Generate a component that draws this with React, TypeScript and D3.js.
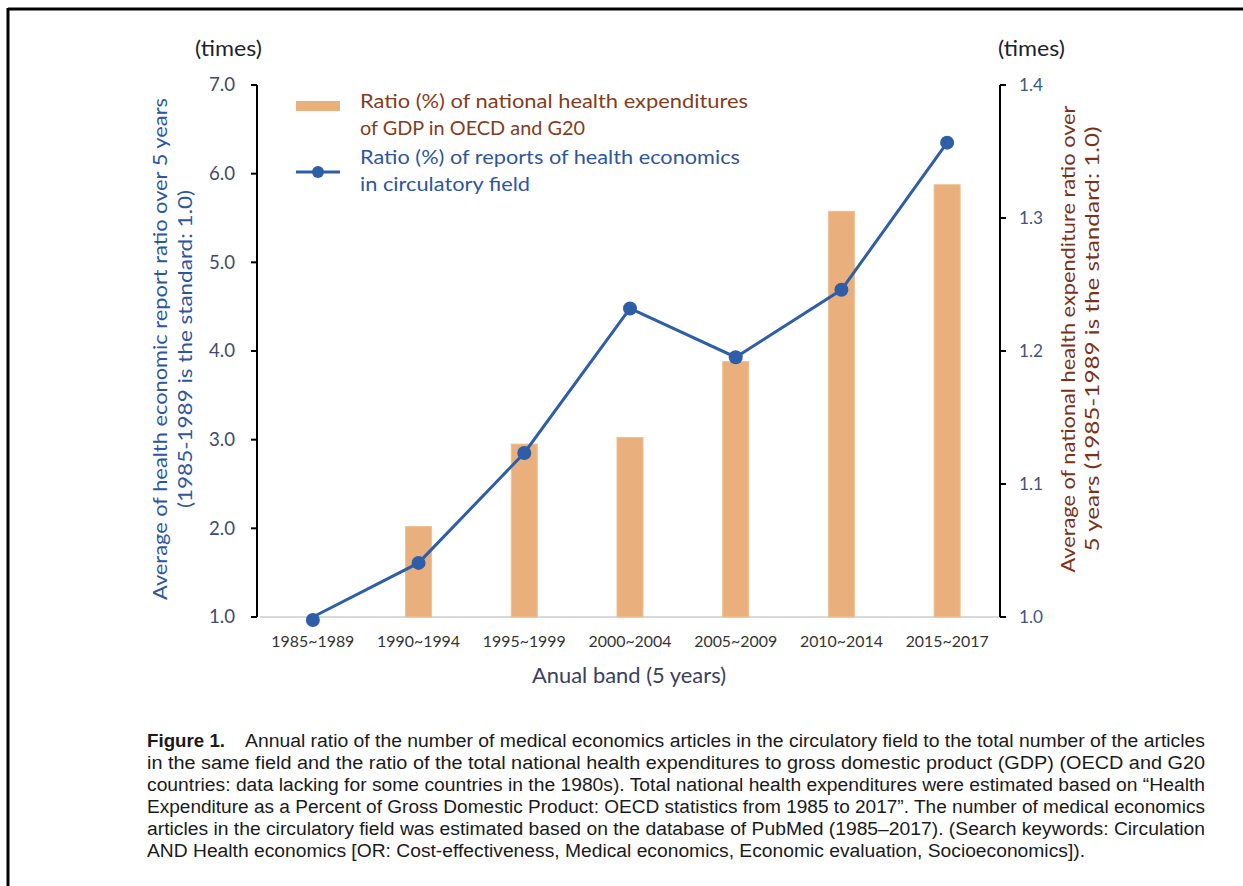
import React from "react";
import * as d3 from "d3";

const categories = ["1985~1989", "1990~1994", "1995~1999", "2000~2004", "2005~2009", "2010~2014", "2015~2017"];
const reportRatio = [1.0, 1.61, 2.85, 4.48, 3.93, 4.69, 6.35];
const expenditureRatio = [1.0, 1.068, 1.13, 1.135, 1.192, 1.305, 1.325];
const leftTicks = [1, 2, 3, 4, 5, 6, 7];
const rightTicks = [1.0, 1.1, 1.2, 1.3, 1.4];

const captionLines = [
  "Annual ratio of the number of medical economics articles in the circulatory field to the total number of the articles",
  "in the same field and the ratio of the total national health expenditures to gross domestic product (GDP) (OECD and G20",
  "countries: data lacking for some countries in the 1980s). Total national health expenditures were estimated based on \u201cHealth",
  "Expenditure as a Percent of Gross Domestic Product: OECD statistics from 1985 to 2017\u201d. The number of medical economics",
  "articles in the circulatory field was estimated based on the database of PubMed (1985\u20132017). (Search keywords: Circulation",
  "AND Health economics [OR: Cost-effectiveness, Medical economics, Economic evaluation, Socioeconomics]).",
];

const W = 1243;
const H = 886;
const plotLeft = 260;
const plotRight = 1000;
const plotTop = 85;
const plotBottom = 617;

const chartFont = "Lato, 'Open Sans', sans-serif";
const capFont = "'Liberation Sans Narrow', 'Liberation Sans', Arial, sans-serif";

export default function App() {
  const x = d3.scaleBand<string>().domain(categories).range([plotLeft, plotRight]);
  const yL = d3.scaleLinear().domain([1, 7]).range([plotBottom, plotTop]);
  const yR = d3.scaleLinear().domain([1, 1.4]).range([plotBottom, plotTop]);
  const cx = (c: string) => (x(c) as number) + x.bandwidth() / 2;
  const line = d3
    .line<number>()
    .x((_, i) => cx(categories[i]))
    .y((d) => yL(d));
  const barW = 26;

  return (
    <svg
      width={W}
      height={H}
      style={{ position: "absolute", left: 0, top: 0, background: "#fff" }}
      fontFamily={chartFont}
    >
      <rect x={0} y={0} width={W} height={H} fill="#fff" />
      {/* frame */}
      <line x1={8} y1={9} x2={W} y2={9} stroke="#000" strokeWidth={3} />
      <line x1={8} y1={8} x2={8} y2={H} stroke="#000" strokeWidth={3} />

      {/* bottom gray axis line */}
      <line x1={plotLeft} y1={plotBottom} x2={plotRight} y2={plotBottom} stroke="#d9d9d9" strokeWidth={2} />

      {/* bars */}
      {expenditureRatio.map((v, i) =>
        v > 1 ? (
          <rect
            key={i}
            x={cx(categories[i]) - barW / 2}
            y={yR(v)}
            width={barW}
            height={yR(1) - yR(v)}
            fill="#e9b07e"
            stroke="#f0c090"
            strokeWidth={1}
          />
        ) : null
      )}

      {/* line */}
      <path d={line(reportRatio) || ""} fill="none" stroke="#2f5ea8" strokeWidth={3} />
      {reportRatio.map((v, i) => (
        <circle key={i} cx={cx(categories[i])} cy={yL(v) + (i === 0 ? 3 : 0)} r={7} fill="#2f5ea8" />
      ))}

      {/* left axis */}
      <line x1={257} y1={plotTop} x2={257} y2={plotBottom} stroke="#000" strokeWidth={2} />
      {leftTicks.map((t) => (
        <g key={t}>
          <line x1={251} x2={257} y1={yL(t)} y2={yL(t)} stroke="#000" strokeWidth={2} />
          <text x={235} y={yL(t)} dy="0.35em" textAnchor="end" fontSize={18.5} fill="#3f4b6b" textLength={26} lengthAdjust="spacingAndGlyphs">
            {t.toFixed(1)}
          </text>
        </g>
      ))}
      <text x={195} y={56} fontSize={21} fill="#1f1f2f" textLength={67} lengthAdjust="spacingAndGlyphs">
        (times)
      </text>

      {/* right axis */}
      <line x1={1000} y1={plotTop} x2={1000} y2={plotBottom} stroke="#000" strokeWidth={2} />
      {rightTicks.map((t) => (
        <g key={t}>
          <line x1={1000} x2={1006} y1={yR(t)} y2={yR(t)} stroke="#000" strokeWidth={2} />
          <text x={1019} y={yR(t)} dy="0.35em" textAnchor="start" fontSize={18} fill="#3d5680" textLength={24} lengthAdjust="spacingAndGlyphs">
            {t.toFixed(1)}
          </text>
        </g>
      ))}
      <text x={998} y={56} fontSize={21} fill="#1f1f2f" textLength={67} lengthAdjust="spacingAndGlyphs">
        (times)
      </text>

      {/* x labels */}
      {categories.map((c) => (
        <text key={c} x={cx(c)} y={641} dy="0.35em" textAnchor="middle" fontSize={16} fill="#333" textLength={83} lengthAdjust="spacingAndGlyphs">
          {c}
        </text>
      ))}
      <text x={629} y={675} dy="0.35em" textAnchor="middle" fontSize={21.5} fill="#3a4060" textLength={194} lengthAdjust="spacingAndGlyphs">
        Anual band (5 years)
      </text>

      {/* left y title */}
      <g transform="translate(167,349) rotate(-90)">
        <text x={0} y={0} textAnchor="middle" fontSize={19} fill="#2e56a0" textLength={502} lengthAdjust="spacingAndGlyphs">
          Average of health economic report ratio over 5 years
        </text>
        <text x={0} y={25} textAnchor="middle" fontSize={19} fill="#2e56a0" textLength={318} lengthAdjust="spacingAndGlyphs">
          (1985-1989 is the standard: 1.0)
        </text>
      </g>

      {/* right y title */}
      <g transform="translate(1075,339) rotate(-90)">
        <text x={0} y={0} textAnchor="middle" fontSize={19} fill="#7b3318" textLength={467} lengthAdjust="spacingAndGlyphs">
          Average of national health expenditure ratio over
        </text>
        <text x={0} y={24} textAnchor="middle" fontSize={19} fill="#7b3318" textLength={425} lengthAdjust="spacingAndGlyphs">
          5 years (1985-1989 is the standard: 1.0)
        </text>
      </g>

      {/* legend */}
      <rect x={296} y={101} width={44} height={10} fill="#e9b07e" />
      <text x={360} y={108} fontSize={19.5} fill="#843c1c" textLength={388} lengthAdjust="spacingAndGlyphs">
        Ratio (%) of national health expenditures
      </text>
      <text x={360} y={135} fontSize={19.5} fill="#843c1c" textLength={225} lengthAdjust="spacingAndGlyphs">
        of GDP in OECD and G20
      </text>
      <line x1={296} x2={340} y1={172} y2={172} stroke="#2f5ea8" strokeWidth={3} />
      <circle cx={318} cy={172} r={6} fill="#2f5ea8" />
      <text x={360} y={164} fontSize={19.5} fill="#2e56a0" textLength={380} lengthAdjust="spacingAndGlyphs">
        Ratio (%) of reports of health economics
      </text>
      <text x={360} y={191} fontSize={19.5} fill="#2e56a0" textLength={170} lengthAdjust="spacingAndGlyphs">
        in circulatory field
      </text>

      {/* caption */}
      <g fontFamily={capFont} fill="#1a1a1a">
        <text x={147} y={747} fontSize={18} fontWeight="bold" textLength={78} lengthAdjust="spacingAndGlyphs">
          Figure 1.
        </text>
        {captionLines.map((l, i) => {
          const xs = i === 0 ? 245 : 147;
          const len = i === 0 ? 960 : i === captionLines.length - 1 ? 938 : 1058;
          return (
            <text
              key={i}
              x={xs}
              y={747 + i * 22}
              fontSize={18}
              textLength={len}
              lengthAdjust="spacingAndGlyphs"
            >
              {l}
            </text>
          );
        })}
      </g>
    </svg>
  );
}
